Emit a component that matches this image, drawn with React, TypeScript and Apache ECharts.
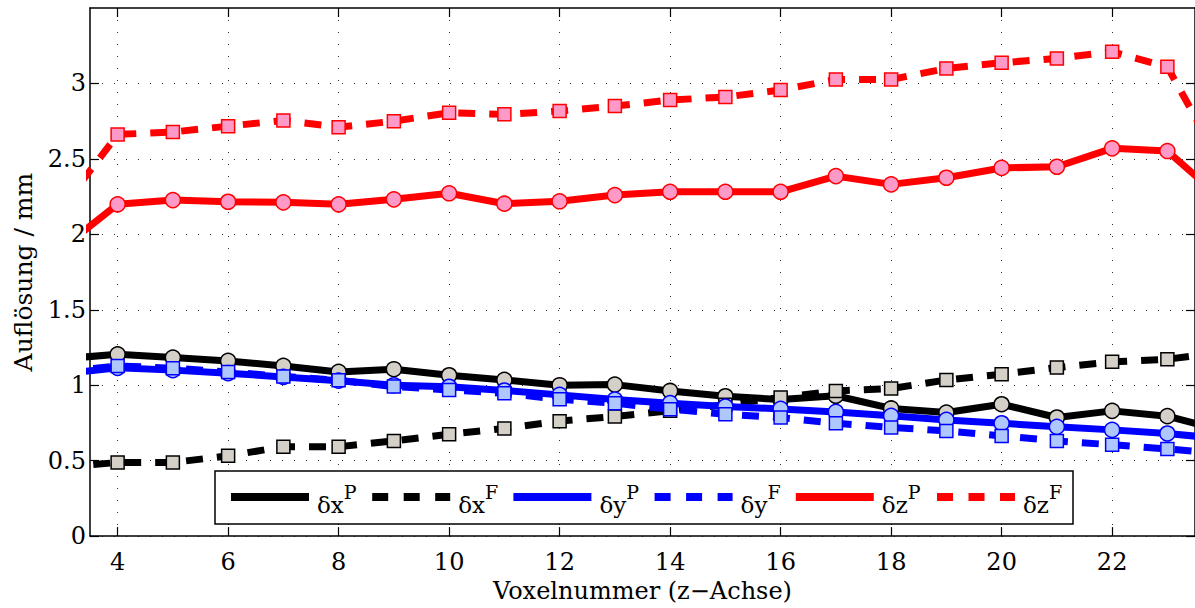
import React, { useEffect, useRef } from "react";
import * as echarts from "echarts";

// ---- data ----
const voxel = [3, 4, 5, 6, 7, 8, 9, 10, 11, 12, 13, 14, 15, 16, 17, 18, 19, 20, 21, 22, 23, 24];
const dxP = [1.175, 1.205, 1.183, 1.161, 1.128, 1.088, 1.106, 1.066, 1.035, 1.0, 1.004, 0.962, 0.927, 0.905, 0.93, 0.846, 0.819, 0.874, 0.786, 0.83, 0.795, 0.70];
const dxF = [0.456, 0.488, 0.488, 0.532, 0.592, 0.592, 0.631, 0.675, 0.713, 0.762, 0.793, 0.83, 0.87, 0.918, 0.962, 0.978, 1.035, 1.073, 1.117, 1.155, 1.172, 1.22];
const dyP = [1.075, 1.115, 1.10, 1.08, 1.055, 1.03, 1.0, 0.99, 0.965, 0.936, 0.905, 0.881, 0.859, 0.843, 0.823, 0.797, 0.77, 0.748, 0.724, 0.704, 0.68, 0.645];
const dyF = [1.09, 1.128, 1.113, 1.088, 1.058, 1.033, 0.991, 0.969, 0.947, 0.907, 0.881, 0.841, 0.808, 0.786, 0.748, 0.72, 0.697, 0.664, 0.631, 0.605, 0.578, 0.545];
const dzP = [1.91, 2.199, 2.227, 2.216, 2.212, 2.199, 2.232, 2.272, 2.203, 2.219, 2.26, 2.282, 2.282, 2.282, 2.386, 2.331, 2.375, 2.44, 2.448, 2.57, 2.552, 2.23];
const dzF = [2.18, 2.662, 2.678, 2.717, 2.755, 2.71, 2.75, 2.806, 2.795, 2.817, 2.85, 2.89, 2.91, 2.956, 3.026, 3.026, 3.099, 3.137, 3.166, 3.21, 3.11, 2.45];

const xTicks = [4, 6, 8, 10, 12, 14, 16, 18, 20, 22];
const yTicks = [0, 0.5, 1, 1.5, 2, 2.5, 3];

const legendBase = ["δx", "δx", "δy", "δy", "δz", "δz"];
const legendSup = ["P", "F", "P", "F", "P", "F"];
const seriesValues = [dxP, dxF, dyP, dyF, dzP, dzF];
const lineColors = ["#000000", "#000000", "#0000ff", "#0000ff", "#ff0000", "#ff0000"];
const markerFills = ["#d4d0c8", "#d4d0c8", "#aec8ff", "#aec8ff", "#ff99c8", "#ff99c8"];
const dashed = [false, true, false, true, false, true];

const FONT = "DejaVu Serif";

export default function App() {
  const ref = useRef<HTMLDivElement>(null);

  useEffect(() => {
    document.body.style.margin = "0";
    if (!ref.current) return;
    const chart = echarts.init(ref.current, undefined, { renderer: "svg" });

    const series = seriesValues.map((vals, i) => ({
      type: "line",
      name: legendBase[i] + legendSup[i],
      data: voxel.map((x, k) => [x, vals[k]]),
      xAxisIndex: 0,
      yAxisIndex: 0,
      z: 2 + i,
      clip: true,
      symbol: dashed[i] ? "rect" : "circle",
      symbolSize: dashed[i] ? 13 : 15,
      showSymbol: true,
      lineStyle: {
        color: lineColors[i],
        width: 7,
        type: dashed[i] ? [17, 14] : "solid",
        cap: "butt",
      },
      itemStyle: {
        color: markerFills[i],
        borderColor: lineColors[i],
        borderWidth: 1.5,
      },
      emphasis: { disabled: true },
    }));

    // legend drawn manually (MATLAB-like box)
    const boxX = 215, boxY = 471, boxW = 858, boxH = 53;
    const pitch = 141.2;
    const lineLen = 78;
    const graphic: any[] = [
      {
        type: "rect",
        z: 100,
        shape: { x: boxX, y: boxY, width: boxW, height: boxH },
        style: { fill: "#ffffff", stroke: "#000000", lineWidth: 1.5 },
      },
    ];
    legendBase.forEach((b, i) => {
      const x0 = 231 + i * pitch;
      graphic.push({
        type: "line",
        z: 101,
        shape: { x1: x0, y1: 497, x2: x0 + lineLen, y2: 497 },
        style: {
          stroke: lineColors[i],
          lineWidth: 8,
          lineDash: dashed[i] ? [16, 15.5] : null,
        },
      });
      graphic.push({
        type: "text",
        z: 101,
        x: x0 + 86,
        y: 499,
        style: {
          text: "{b|" + b + "}{s|" + legendSup[i] + "}",
          verticalAlign: "middle",
          align: "left",
          fill: "#000",
          font: "23px 'DejaVu Serif'",
          rich: {
            b: { font: "23px 'DejaVu Serif'", fontFamily: FONT, fontSize: 23, lineHeight: 34, verticalAlign: "bottom", fill: "#000" },
            s: { font: "19px 'DejaVu Serif'", fontFamily: FONT, fontSize: 19, lineHeight: 19, verticalAlign: "top", fill: "#000" },
          },
        },
      });
    });

    const splitStyle = { color: "#333", width: 1, type: [1, 11] };

    chart.setOption({
      animation: false,
      grid: { left: 90, top: 8, width: 1108, height: 529, containLabel: false },
      xAxis: [
        {
          type: "value",
          position: "bottom",
          min: 3.5,
          max: 23.5,
          name: "Voxelnummer (z−Achse)",
          nameLocation: "middle",
          nameGap: 42,
          nameTextStyle: { fontFamily: FONT, fontSize: 24, color: "#000" },
          axisLine: { show: true, onZero: false, lineStyle: { color: "#000", width: 1.5 } },
          axisTick: { show: true, inside: true, length: 9, customValues: xTicks, lineStyle: { color: "#000", width: 1.2 } },
          axisLabel: { show: true, customValues: xTicks, fontFamily: FONT, fontSize: 24, color: "#000", margin: 14 },
          splitLine: { show: true, lineStyle: splitStyle },
        },
        {
          type: "value",
          position: "top",
          min: 3.5,
          max: 23.5,
          axisLine: { show: true, onZero: false, lineStyle: { color: "#000", width: 1.5 } },
          axisTick: { show: true, inside: true, length: 9, customValues: xTicks, lineStyle: { color: "#000", width: 1.2 } },
          axisLabel: { show: false },
          splitLine: { show: false },
        },
      ],
      yAxis: [
        {
          type: "value",
          position: "left",
          min: 0,
          max: 3.5,
          name: "Auflösung / mm",
          nameLocation: "middle",
          nameGap: 54,
          nameTextStyle: { fontFamily: FONT, fontSize: 25, color: "#000" },
          axisLine: { show: true, onZero: false, lineStyle: { color: "#000", width: 1.5 } },
          axisTick: { show: true, inside: true, length: 9, customValues: yTicks, lineStyle: { color: "#000", width: 1.2 } },
          axisLabel: { show: true, customValues: yTicks, fontFamily: FONT, fontSize: 24, color: "#000", margin: 4 },
          splitLine: { show: true, lineStyle: splitStyle },
        },
        {
          type: "value",
          position: "right",
          min: 0,
          max: 3.5,
          axisLine: { show: true, onZero: false, lineStyle: { color: "#000", width: 1.5 } },
          axisTick: { show: true, inside: true, length: 9, customValues: yTicks, lineStyle: { color: "#000", width: 1.2 } },
          axisLabel: { show: false },
          splitLine: { show: false },
        },
      ],
      series,
      graphic,
    });

    return () => {
      chart.dispose();
    };
  }, []);

  return <div ref={ref} style={{ width: 1195, height: 608, background: "#fff" }} />;
}
